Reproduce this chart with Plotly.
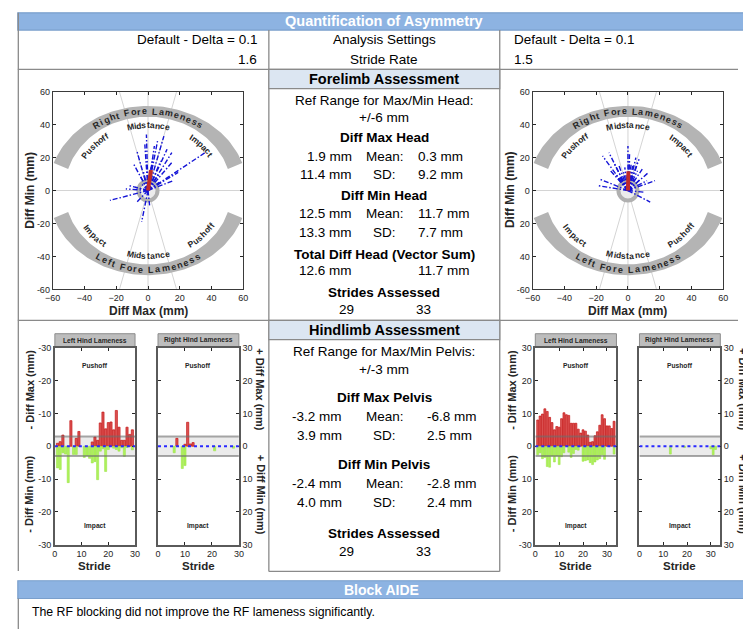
import numpy as np
import plotly.graph_objects as go

W, H = 743, 634
FONT = "Liberation Sans, Arial, Helvetica, sans-serif"
INK = "#262626"
HEAD_BLUE = "#8db3e2"
SUB_BLUE = "#dce6f2"
FRAME = "#8a8a8a"

# ---------------- forelimb: head asymmetry per stride (mm) ----------------
# x = Diff Max, y = Diff Min
fore_left_max = [36, 19, 15, 10, 6, -1, -7, -9, -8, -24, -7, -4, 8, 15, 4,
                 12, 3, -3, 2, -12, -5, 7, 16, 1, -2, 2, -14, 7, -4]
fore_left_min = [23, 11, 23, 33, 30, 34, 24, 16, 2, -6, -7, -19, 18, 17, 27,
                 25, 20, 12, 8, 3, 9, 5, 6, -9, 28, 14, 1, 10, 4]
fore_right_max = [0, -16, -12, -9, -18, -19, -6, 7, 6, 13, 17, 10, 14, 5, 3,
                  -3, 2, -8, 9, 1, -4, 4, -11, 8, 1, -2, 12, -6, 3, 2, -5, 6, 4]
fore_right_min = [27, 21, 23, 17, 7, 3, 16, 19, 17, 11, 6, -1, -7, 20, 15,
                  12, 8, 10, 13, 22, 6, 4, 12, 7, 18, 14, 6, 7, 10, 16, 8, 12, 7]

diff_max_head_mean = [1.9, 0.3]
diff_max_head_sd = [11.4, 9.2]
diff_min_head_mean = [12.5, 11.7]
diff_min_head_sd = [13.3, 7.7]
total_diff_head = [12.6, 11.7]
fore_strides = [29, 33]
ref_head_mm = 6

# ---------------- hindlimb: pelvis asymmetry per stride (mm) ----------------
hind_left_max = [-0.9, -1.4, -3.4, 0.0, 0.0, -7.8, 2.4, -2.4, -4.5, 0.6,
                 7.3, 0.7, 1.1, -1.3, -2.8, -1.8, -7.1, -10.4, -5.3, -7.2,
                 -7.4, -5.0, -10.9, -5.8, -1.8, -1.8, -5.8, -3.6, -5.0]
hind_left_min = [-6.6, -7.1, -2.0, -2.4, -11.1, 2.0, -2.5, -2.5, 6.8, 5.9,
                 -3.4, -2.9, -3.7, -5.1, -4.7, -10.2, -1.5, -0.8, -7.7, -1.0,
                 1.4, -0.6, -1.0, -1.5, -0.5, -3.1, -0.4, 0.6, -1.1]
hind_right_max = [-8.0, -9.2, -9.8, -11.4, -10.6, -8.8, -7.2, -5.0, -6.0, -5.8,
                  -8.4, -10.2, -9.6, -9.4, -7.0, -7.0, -7.0, -5.2, -4.0, -5.0,
                  -4.6, -3.4, -1.2, -1.4, -3.2, -4.4, -6.4, -9.6, -8.4, -6.2,
                  -6.2, -5.4, -7.6]
hind_right_min = [-2.6, -2.0, -3.8, -3.4, -6.2, -6.4, -3.0, -4.8, -3.0, -5.6,
                  -3.2, -2.0, 2.4, -1.8, -3.4, -2.2, -1.0, -1.2, 0.4, -4.6,
                  -4.4, -4.2, -5.0, -5.6, -4.8, -4.2, -3.8, -2.6, -4.0, 0.8,
                  2.6, 1.0, -2.4]

diff_max_pelvis_mean = [-3.2, -6.8]
diff_max_pelvis_sd = [3.9, 2.5]
diff_min_pelvis_mean = [-2.4, -2.8]
diff_min_pelvis_sd = [4.0, 2.4]
hind_strides = [29, 33]
ref_pelvis_mm = 3

settings = ["Default - Delta = 0.1", "Default - Delta = 0.1"]
stride_rate = [1.6, 1.5]
conclusion = "The RF blocking did not improve the RF lameness significantly."

# ---------------- helpers ----------------
shapes, anns, traces = [], [], []


def fx(x):
    return x / W


def fy(y):
    return 1 - y / H


def text(x, y, s, size=13.5, bold=False, color="black", xanchor="center",
         angle=0):
    anns.append(dict(x=fx(x), y=fy(y), xref="paper", yref="paper",
                     text=f"<b>{s}</b>" if bold else s, showarrow=False,
                     xanchor=xanchor, yanchor="middle", textangle=angle,
                     font=dict(family=FONT, size=size, color=color)))


def rect(x0, y0, x1, y1, fill, line=FRAME, lw=1.2):
    shapes.append(dict(type="rect", xref="paper", yref="paper",
                       x0=fx(x0), x1=fx(x1), y0=fy(y0), y1=fy(y1),
                       fillcolor=fill, line=dict(color=line, width=lw),
                       layer="below"))


def seg(x0, y0, x1, y1, color=FRAME, lw=1.3):
    shapes.append(dict(type="line", xref="paper", yref="paper",
                       x0=fx(x0), x1=fx(x1), y0=fy(y0), y1=fy(y1),
                       line=dict(color=color, width=lw), layer="below"))


CHAR_W = {'R': .722, 'i': .278, 'g': .611, 'h': .611, 't': .333, ' ': .278,
          'F': .611, 'o': .611, 'r': .389, 'e': .556, 'L': .611, 'a': .556,
          'm': .889, 'n': .611, 's': .556, 'f': .333, 'M': .833, 'd': .611,
          'c': .556, 'P': .667, 'u': .611, 'I': .278, 'p': .611}


def arc_text(s, a, b, t_mid, top, fs, gap, sx, sy, xref, yref):
    """Letters laid along an ellipse (a, b in pixels) centred at the origin."""
    t = np.radians(np.linspace(t_mid - 100, t_mid + 100, 4001))
    xs, ys = a * np.cos(t), b * np.sin(t)
    cum = np.concatenate([[0.0], np.cumsum(np.hypot(np.diff(xs), np.diff(ys)))])
    cum -= cum[2000]
    widths = [CHAR_W.get(c, .6) * fs for c in s]
    pos = -(sum(widths) + gap * (len(s) - 1)) / 2
    for c, w in zip(s, widths):
        mid = pos + w / 2
        pos += w + gap
        if c == " ":
            continue
        tc = np.interp(-mid if top else mid, cum, t)
        if top:
            dx, dy = a * np.sin(tc), -b * np.cos(tc)
        else:
            dx, dy = -a * np.sin(tc), b * np.cos(tc)
        ang = np.degrees(np.arctan2(dy, dx))
        anns.append(dict(x=a * np.cos(tc) / sx, y=b * np.sin(tc) / sy,
                         xref=xref, yref=yref, text=f"<b>{c}</b>",
                         textangle=-ang, showarrow=False,
                         xanchor="center", yanchor="middle",
                         font=dict(family=FONT, size=fs, color=INK)))


def axis(dom, rng, tickvals, ticktext=None, anchor=None, side=None,
         lc=INK, lw=1):
    d = dict(domain=dom, range=rng, tickvals=tickvals, showline=True,
             linecolor=lc, linewidth=lw, mirror="ticks", ticks="inside",
             ticklen=3, tickcolor=INK, showgrid=False, zeroline=False,
             tickfont=dict(family=FONT, size=9, color=INK), fixedrange=True,
             anchor=anchor)
    if ticktext is not None:
        d["ticktext"] = ticktext
    if side:
        d["side"] = side
    return d


layout_axes = {}

# ---------------- page frame ----------------
rect(10, 8, 770, 25.5, HEAD_BLUE, line="#7a9fcc")
seg(10.5, 8, 10.5, 575)
seg(265.5, 25.5, 265.5, 575.5)
seg(500.5, 25.5, 500.5, 575.5)
seg(10, 65.5, 743, 65.5)
seg(10, 320.5, 743, 320.5)
seg(265.5, 575.5, 500.5, 575.5)
rect(265.5, 65.5, 500.5, 85, SUB_BLUE)
rect(265.5, 320.5, 500.5, 340, SUB_BLUE)
rect(10, 585, 770, 603, HEAD_BLUE, line="#7a9fcc")
seg(10.5, 603, 10.5, 634)

text(383, 16.5, "Quantification of Asymmetry", size=14.5, bold=True, color="white")
text(255, 35, settings[0], xanchor="right")
text(383, 35, "Analysis Settings")
text(513, 35, settings[1], xanchor="left")
text(255, 55, f"{stride_rate[0]}", xanchor="right")
text(383, 55, "Stride Rate")
text(513, 55, f"{stride_rate[1]}", xanchor="left")


def row(y, left, mid, right, lx, rx):
    text(lx, y, left, xanchor="right")
    if mid:
        text(383.5, y, mid)
    text(rx, y, right, xanchor="left")


# forelimb summary
text(383, 75.5, "Forelimb Assessment", size=14.5, bold=True)
text(383, 97, "Ref Range for Max/Min Head:")
text(383, 114, f"+/-{ref_head_mm} mm")
text(383, 135, "Diff Max Head", bold=True)
row(153.5, f"{diff_max_head_mean[0]:.1f} mm", "Mean:", f"{diff_max_head_mean[1]:.1f} mm", 352, 415)
row(172.5, f"{diff_max_head_sd[0]:.1f} mm", "SD:", f"{diff_max_head_sd[1]:.1f} mm", 352, 415)
text(383, 193.5, "Diff Min Head", bold=True)
row(212, f"{diff_min_head_mean[0]:.1f} mm", "Mean:", f"{diff_min_head_mean[1]:.1f} mm", 352, 415)
row(231, f"{diff_min_head_sd[0]:.1f} mm", "SD:", f"{diff_min_head_sd[1]:.1f} mm", 352, 415)
text(383, 253, "Total Diff Head (Vector Sum)", bold=True)
row(269.5, f"{total_diff_head[0]:.1f} mm", "", f"{total_diff_head[1]:.1f} mm", 352, 415)
text(383, 292, "Strides Assessed", bold=True)
text(345, 309.5, f"{fore_strides[0]}")
text(423, 309.5, f"{fore_strides[1]}")

# hindlimb summary
text(383, 330, "Hindlimb Assessment", size=14.5, bold=True)
text(383, 352, "Ref Range for Max/Min Pelvis:")
text(383, 370, f"+/-{ref_pelvis_mm} mm")
text(383, 399, "Diff Max Pelvis", bold=True)
row(418.5, f"{diff_max_pelvis_mean[0]:.1f} mm", "Mean:", f"{diff_max_pelvis_mean[1]:.1f} mm", 342, 424)
row(437.5, f"{diff_max_pelvis_sd[0]:.1f} mm", "SD:", f"{diff_max_pelvis_sd[1]:.1f} mm", 342, 424)
text(383, 467, "Diff Min Pelvis", bold=True)
row(486, f"{diff_min_pelvis_mean[0]:.1f} mm", "Mean:", f"{diff_min_pelvis_mean[1]:.1f} mm", 342, 424)
row(505, f"{diff_min_pelvis_sd[0]:.1f} mm", "SD:", f"{diff_min_pelvis_sd[1]:.1f} mm", 342, 424)
text(383, 537, "Strides Assessed", bold=True)
text(345, 555, f"{hind_strides[0]}")
text(423, 555, f"{hind_strides[1]}")

text(380, 594, "Block AIDE", size=14, bold=True, color="white")
text(22, 617, conclusion, size=12.3, xanchor="left")

# ---------------- forelimb vector plots ----------------
BAND_O = (101.5, 86.0)
BAND_I = (85.0, 75.0)
TXT_R = (93.0, 80.5)
LBL_R = (76.0, 66.5)


def fore_plot(k, xpx, ypx, vx, vy, mx, my, yticktext, ylab_x):
    xa, ya = ("x", "y") if k == 1 else (f"x{k}", f"y{k}")
    sx = (xpx[1] - xpx[0]) / 120
    sy = (ypx[1] - ypx[0]) / 120
    ticks = [-60, -40, -20, 0, 20, 40, 60]
    layout_axes["xaxis" if k == 1 else f"xaxis{k}"] = axis(
        [fx(xpx[0]), fx(xpx[1])], [-60, 60], ticks, anchor=ya, lc="#3a3a3a")
    layout_axes["yaxis" if k == 1 else f"yaxis{k}"] = axis(
        [fy(ypx[1]), fy(ypx[0])], [-60, 60], ticks, yticktext, anchor=xa,
        lc="#3a3a3a")

    # guide lines through the origin
    for (x0, y0, x1, y1) in [(0, -60, 0, 60), (-60, 0, 60, 0),
                             (-18, 60, 18, -60), (18, 60, -18, -60)]:
        shapes.append(dict(type="line", xref=xa, yref=ya, x0=x0, y0=y0,
                           x1=x1, y1=y1, layer="below",
                           line=dict(color="#d4d4d4", width=1)))
    # reference circle
    shapes.append(dict(type="circle", xref=xa, yref=ya, x0=-ref_head_mm,
                       x1=ref_head_mm, y0=-ref_head_mm, y1=ref_head_mm,
                       fillcolor="#ececec", line=dict(color="#b0b0b0", width=4),
                       layer="below"))

    # lameness bands
    for lo_o, hi_o, lo_i, hi_i in [(19, 161, 17, 163), (199, 341, 197, 343)]:
        to = np.radians(np.linspace(lo_o, hi_o, 90))
        ti = np.radians(np.linspace(hi_i, lo_i, 90))
        bx = list(BAND_O[0] * np.cos(to) / sx) + list(BAND_I[0] * np.cos(ti) / sx)
        by = list(BAND_O[1] * np.sin(to) / sy) + list(BAND_I[1] * np.sin(ti) / sy)
        traces.append(go.Scatter(x=bx + [bx[0]], y=by + [by[0]], xaxis=xa,
                                 yaxis=ya, mode="lines", fill="toself",
                                 fillcolor="#b4b4b4", line=dict(width=0),
                                 hoverinfo="skip"))

    arc_text("Right Fore Lameness", *TXT_R, 90, True, 9, 1.35, sx, sy, xa, ya)
    arc_text("Left Fore Lameness", *TXT_R, 270, False, 9, 1.45, sx, sy, xa, ya)
    for lbl, tm, top in [("Midstance", 90, True), ("Pushoff", 136, True),
                         ("Impact", 44, True), ("Impact", 224, False),
                         ("Midstance", 270, False), ("Pushoff", 316, False)]:
        arc_text(lbl, *LBL_R, tm, top, 8.5, 0.3, sx, sy, xa, ya)

    # per-stride vectors
    lx, ly = [], []
    for a, b in zip(vx, vy):
        lx += [0, a, None]
        ly += [0, b, None]
    traces.append(go.Scatter(x=lx, y=ly, xaxis=xa, yaxis=ya, mode="lines",
                             line=dict(color="#1414d6", width=1.4,
                                       dash="5px,2px,1.5px,2px"),
                             hoverinfo="skip"))
    # mean vector
    traces.append(go.Scatter(x=[0, mx], y=[0, my], xaxis=xa, yaxis=ya,
                             mode="lines", line=dict(color="#bf2b2b", width=4),
                             hoverinfo="skip"))

    cx = (xpx[0] + xpx[1]) / 2
    text(cx, 311, "Diff Max (mm)", size=12, bold=True, color=INK)
    text(ylab_x, 188, "Diff Min (mm)", size=12, bold=True, color=INK, angle=-90)


fore_plot(1, (45.5, 239.5), (88, 289), fore_left_max, fore_left_min,
          diff_max_head_mean[0], diff_min_head_mean[0],
          ["-60", "-40", "-20", "0", "20", "40", "60"], 22)
fore_plot(2, (534, 728), (88, 289), fore_right_max, fore_right_min,
          diff_max_head_mean[1], diff_min_head_mean[1],
          ["-60", "40", "20", "0", "20", "40", "60"], 511)

# ---------------- hindlimb stride bars ----------------
RED = "rgb(220,84,84)"
RED_EDGE = "rgb(196,20,20)"
GREEN = "rgb(174,242,92)"


def hind_panel(k, xpx, dmax, dmin, outward, title, yticktext, side):
    xa, ya = f"x{k}", f"y{k}"
    n = len(dmax)
    strides = list(range(1, n + 1))
    layout_axes[f"xaxis{k}"] = axis([fx(xpx[0]), fx(xpx[1])], [0, n + 1],
                                    [0, 10, 20, 30], anchor=ya,
                                    lc="#5a5a5a", lw=1.5)
    layout_axes[f"yaxis{k}"] = axis([fy(548.3), fy(348.3)], [-30, 30],
                                    [-30, -20, -10, 0, 10, 20, 30], yticktext,
                                    anchor=xa, side=side, lc="#5a5a5a", lw=1.5)
    if outward < 0:
        up = [-v if v < 0 else None for v in dmax]
        down = [v if v < 0 else None for v in dmin]
    else:
        up = [v if v > 0 else None for v in dmax]
        down = [-v if v > 0 else None for v in dmin]

    shapes.append(dict(type="rect", xref=xa, yref=ya, x0=0, x1=n + 1,
                       y0=-ref_pelvis_mm, y1=ref_pelvis_mm, fillcolor="#ebebeb",
                       line=dict(width=0), layer="below"))
    traces.append(go.Bar(x=strides, y=up, xaxis=xa, yaxis=ya, width=0.8,
                         marker=dict(color=RED, line=dict(color=RED_EDGE, width=0.7)),
                         hoverinfo="skip"))
    traces.append(go.Bar(x=strides, y=down, xaxis=xa, yaxis=ya, width=0.8,
                         marker=dict(color=GREEN, line=dict(color="rgb(150,225,60)", width=0.5)),
                         hoverinfo="skip"))
    for yv in (-ref_pelvis_mm, ref_pelvis_mm):
        shapes.append(dict(type="line", xref=xa, yref=ya, x0=0, x1=n + 1,
                           y0=yv, y1=yv, layer="above",
                           line=dict(color="rgba(110,110,110,0.6)", width=2)))
    shapes.append(dict(type="line", xref=xa, yref=ya, x0=0, x1=n + 1, y0=0,
                       y1=0, layer="above",
                       line=dict(color="#2a2aff", width=2, dash="dot")))

    rect(xpx[0], 334, xpx[1], 347.5, "#bdbdbd", line="#8c8c8c", lw=1)
    cx = (xpx[0] + xpx[1]) / 2
    text(cx, 340.5, title, size=6.7, bold=True, color=INK)
    anns.append(dict(x=(n + 1) / 2, y=24.7, xref=xa, yref=ya, text="<b>Pushoff</b>",
                     showarrow=False, font=dict(family=FONT, size=6.7, color=INK)))
    anns.append(dict(x=(n + 1) / 2, y=-24.2, xref=xa, yref=ya, text="<b>Impact</b>",
                     showarrow=False, font=dict(family=FONT, size=6.7, color=INK)))
    text(cx, 570, "Stride", size=11.5, bold=True, color=INK)


hind_panel(3, (47.7, 129.3), hind_left_max, hind_left_min, -1, "Left Hind Lameness",
           ["-30", "-20", "-10", "0", "-10", "-20", "-30"], None)
hind_panel(4, (152.7, 235), hind_left_max, hind_left_min, 1, "Right Hind Lameness",
           ["30", "20", "10", "0", "10", "20", "30"], "right")
hind_panel(5, (536.7, 619.3), hind_right_max, hind_right_min, -1, "Left Hind Lameness",
           ["-30", "20", "10", "0", "10", "20", "30"], None)
hind_panel(6, (642.7, 725), hind_right_max, hind_right_min, 1, "Right Hind Lameness",
           ["30", "20", "10", "0", "10", "20", "30"], "right")

for x0, x1 in [(22, 257), (513, 748)]:
    text(x0, 391, "- Diff Max (mm)", size=11, bold=True, color=INK, angle=-90)
    text(x0, 497, "- Diff Min (mm)", size=11, bold=True, color=INK, angle=-90)
    text(x1, 391, "+ Diff Max (mm)", size=11, bold=True, color=INK, angle=90)
    text(x1, 497, "+ Diff Min (mm)", size=11, bold=True, color=INK, angle=90)

fig = go.Figure(traces)
fig.update_layout(width=W, height=H, margin=dict(l=0, r=0, t=0, b=0),
                  paper_bgcolor="white", plot_bgcolor="rgba(0,0,0,0)",
                  showlegend=False, barmode="overlay", shapes=shapes,
                  annotations=anns, font=dict(family=FONT, color=INK),
                  **layout_axes)
fig.write_html("out.html")
